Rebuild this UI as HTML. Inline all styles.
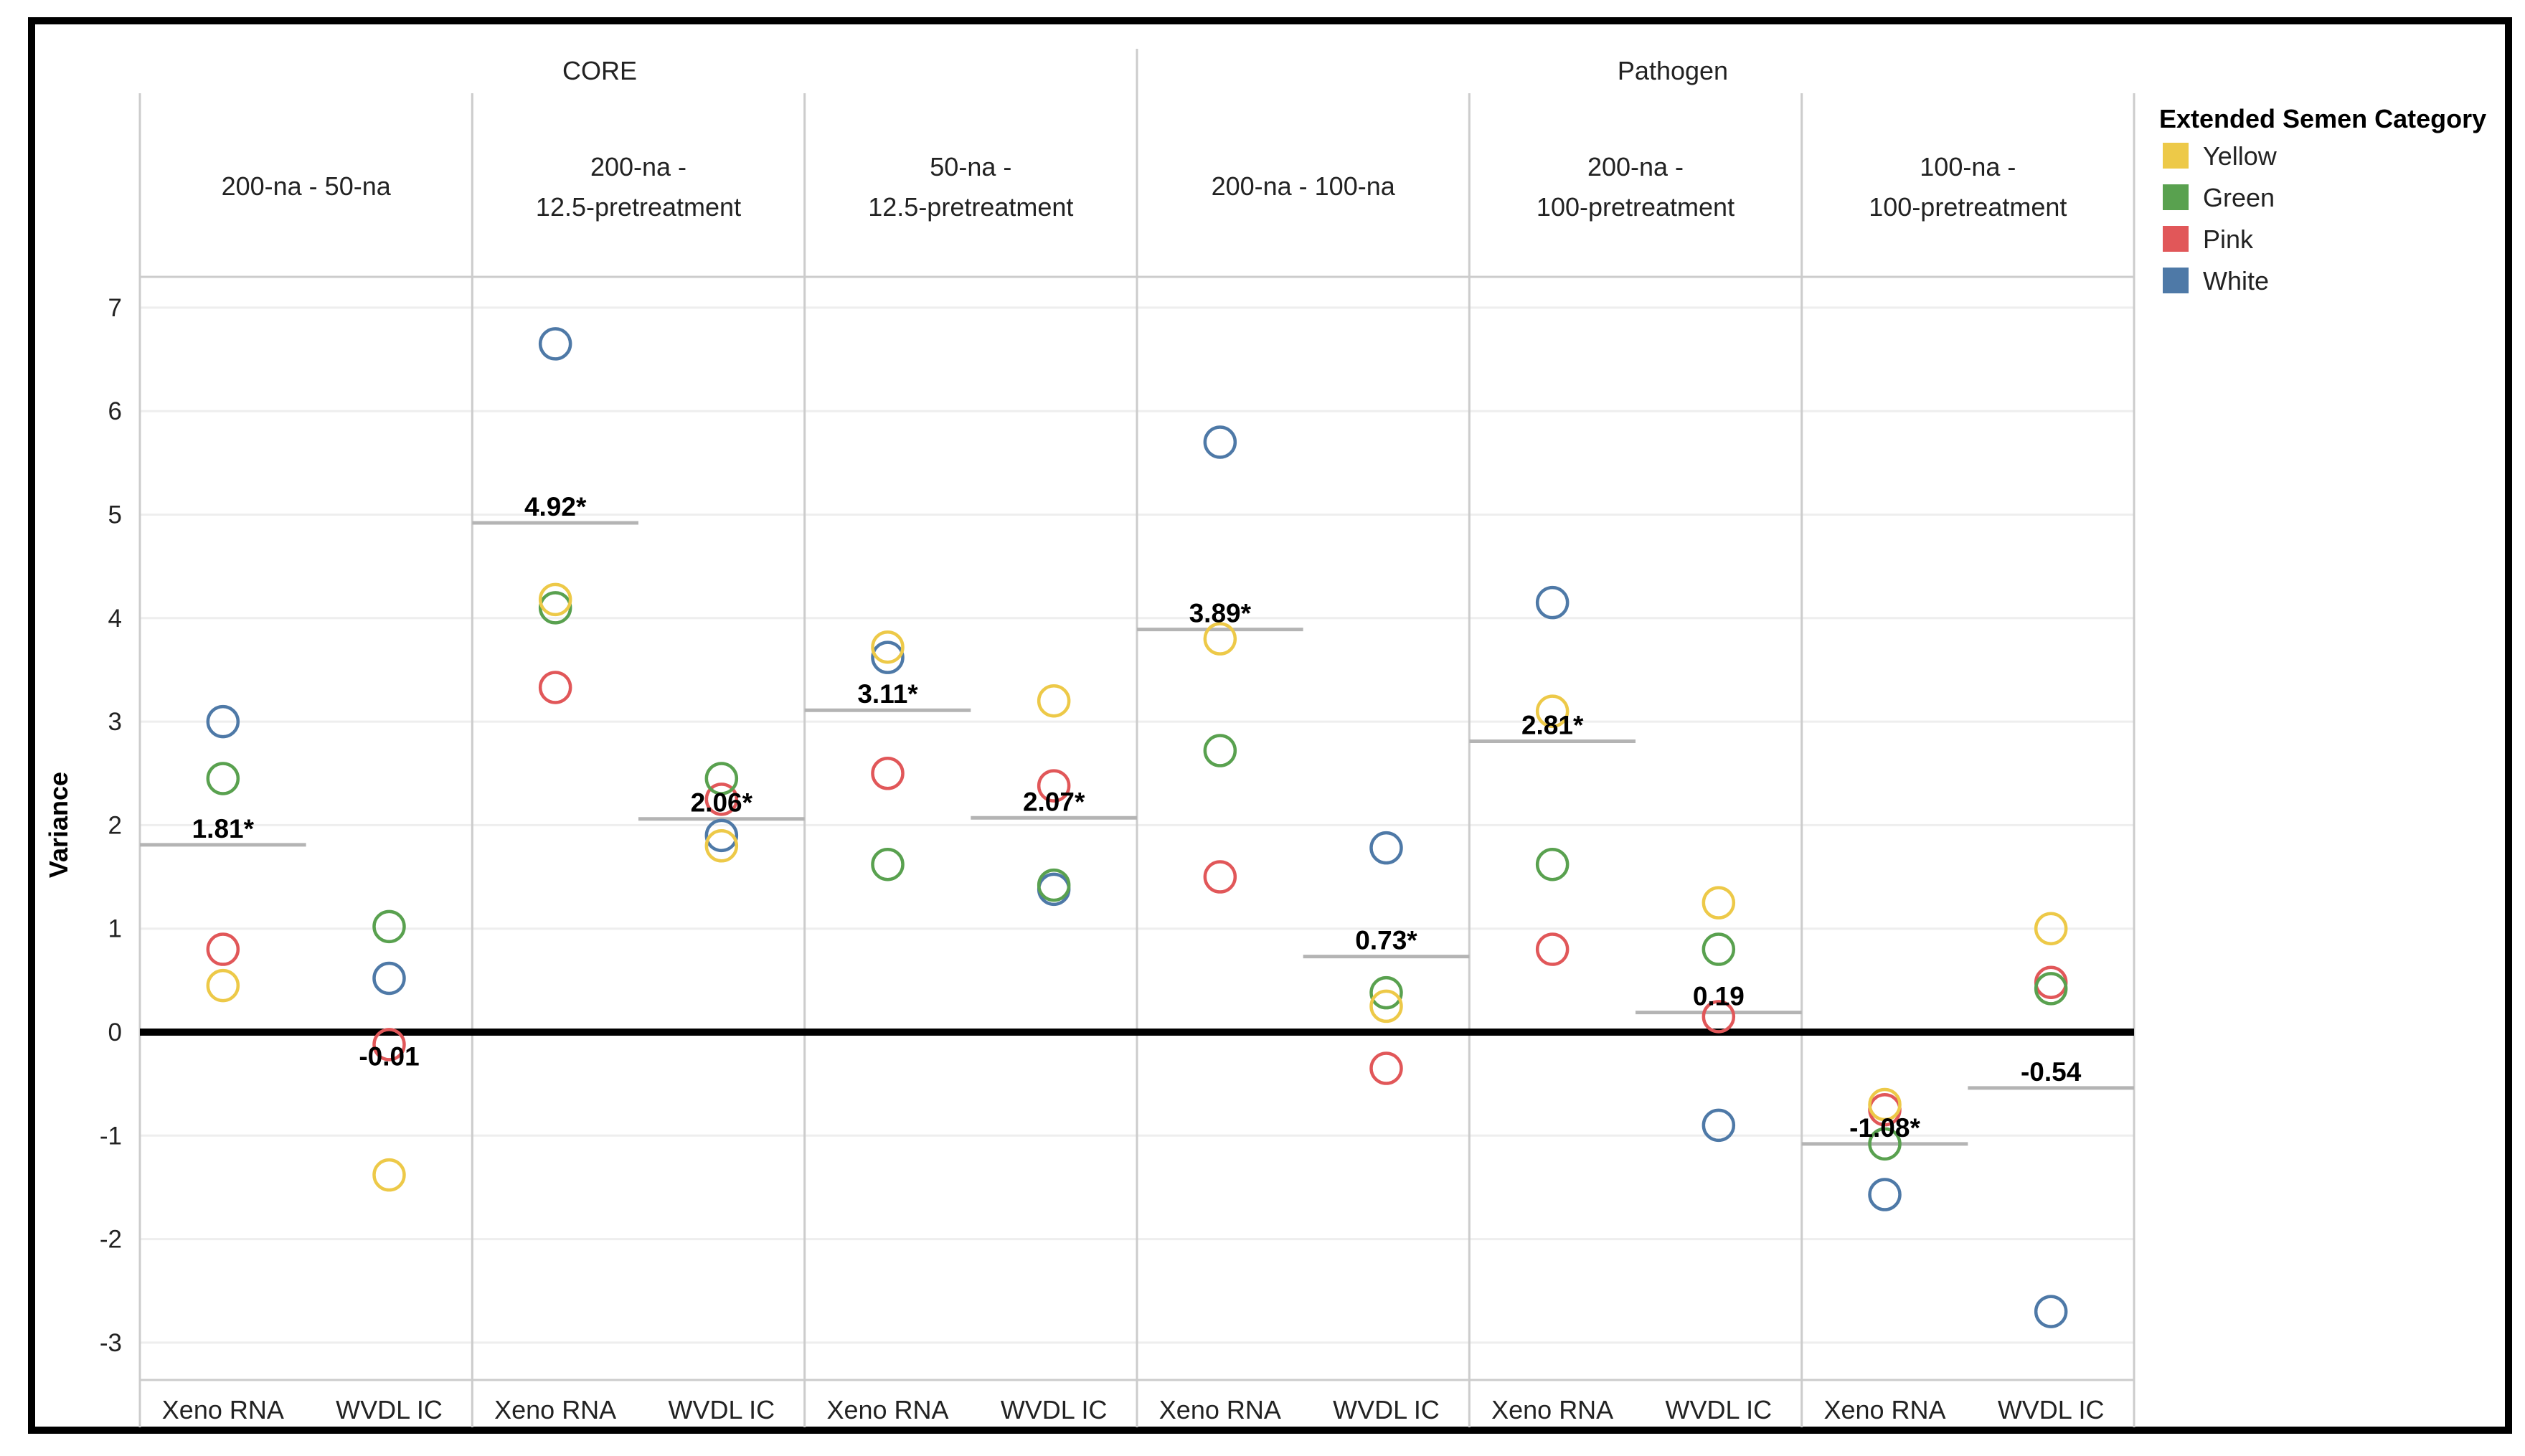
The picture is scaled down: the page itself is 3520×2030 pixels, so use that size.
<!DOCTYPE html>
<html><head><meta charset="utf-8"><style>
html,body{margin:0;padding:0;background:#fff;}
svg{display:block;font-family:"Liberation Sans",sans-serif;}
</style></head><body>
<svg id="chart" width="3520" height="2030" viewBox="0 0 3520 2030" xmlns="http://www.w3.org/2000/svg">
<rect x="0" y="0" width="3520" height="2030" fill="#fff"/>
<rect x="44" y="29" width="3453" height="1965" fill="none" stroke="#000" stroke-width="10"/>
<g id="grid"></g>
<g id="headers"></g>
<g id="marks"></g>
<text x="94" y="1150" font-size="36" font-weight="bold" text-anchor="middle" transform="rotate(-90 94 1150)">Variance</text>
<g id="legend">
<text x="3010" y="178" font-size="36" font-weight="bold">Extended Semen Category</text>
</g>
</svg>
<script>
const groups = ["CORE", "Pathogen"];
const groupSpans = [3, 3];
const comparisons = [["200-na - 50-na"], ["200-na -", "12.5-pretreatment"], ["50-na -", "12.5-pretreatment"], ["200-na - 100-na"], ["200-na -", "100-pretreatment"], ["100-na -", "100-pretreatment"]];
const methods = ["Xeno RNA", "WVDL IC"];
const categories = ["Yellow", "Green", "Pink", "White"];
const colors = ["#EDC948", "#59A14F", "#E15759", "#4E79A7"];
const yTicks = [7, 6, 5, 4, 3, 2, 1, 0, -1, -2, -3];
// values per panel (comparison x method), order Yellow, Green, Pink, White
const yellowVals = [0.45, -1.38, 4.18, 1.8, 3.72, 3.2, 3.8, 0.25, 3.1, 1.25, -0.7, 1.0];
const greenVals = [2.45, 1.02, 4.1, 2.45, 1.62, 1.42, 2.72, 0.38, 1.62, 0.8, -1.08, 0.42];
const pinkVals = [0.8, -0.12, 3.33, 2.25, 2.5, 2.38, 1.5, -0.35, 0.8, 0.15, -0.75, 0.48];
const whiteVals = [3.0, 0.52, 6.65, 1.9, 3.62, 1.38, 5.7, 1.78, 4.15, -0.9, -1.57, -2.7];
const meanVals = [1.81, -0.01, 4.92, 2.06, 3.11, 2.07, 3.89, 0.73, 2.81, 0.19, -1.08, -0.54];
const meanLabels = ["1.81*", "-0.01", "4.92*", "2.06*", "3.11*", "2.07*", "3.89*", "0.73*", "2.81*", "0.19", "-1.08*", "-0.54"];

const NS = "http://www.w3.org/2000/svg";
const plotL = 195, plotR = 2975, plotT = 386, plotB = 1924;
const colW = (plotR - plotL) / comparisons.length;
const y0 = 1439, unit = 144.3;
const groupOffsets = [-54, 52];
function yScale(v) { return y0 - v * unit; }
function panelX(i) { return plotL + colW * (Math.floor(i / 2) + (i % 2 === 0 ? 0.25 : 0.75)); }
function mk(tag, attrs, parent, text) {
  const el = document.createElementNS(NS, tag);
  for (const k in attrs) el.setAttribute(k, attrs[k]);
  if (text !== undefined) el.textContent = text;
  parent.appendChild(el);
  return el;
}
const grid = document.getElementById('grid');
const headers = document.getElementById('headers');
const marks = document.getElementById('marks');
const legend = document.getElementById('legend');

yTicks.forEach(t => {
  const y = yScale(t);
  const g = mk('line', {x1: plotL, x2: plotR, y1: y, y2: y, stroke: '#eeeeee', 'stroke-width': 3}, grid);
  
  
  const tl = mk('text', {x: 170, y: y + 12, 'font-size': 35, 'text-anchor': 'end', fill: '#222'}, grid, String(t));
  
  
});
const hl = mk('line', {x1: plotL, x2: plotR, y1: plotT, y2: plotT, stroke: '#cccccc', 'stroke-width': 3}, grid);


const bl = mk('line', {x1: plotL, x2: plotR, y1: plotB, y2: plotB, stroke: '#cccccc', 'stroke-width': 3}, grid);


for (let c = 0; c <= comparisons.length; c++) {
  const x = plotL + c * colW;
  const top = (c === 3) ? 68 : 130;
  const vl = mk('line', {x1: x, x2: x, y1: top, y2: 1990, stroke: '#cccccc', 'stroke-width': 3}, grid);
  
  
}
let gc = 0;
groups.forEach((g, i) => {
  const cx = plotL + colW * (gc + groupSpans[i] / 2) + groupOffsets[i];
  gc += groupSpans[i];
  const t = mk('text', {x: cx, y: 111, 'font-size': 36, 'text-anchor': 'middle', fill: '#222'}, headers, g);
  
  
});
comparisons.forEach((lines, c) => {
  const cx = plotL + colW * (c + 0.5);
  lines.forEach((ln, k) => {
    const y = lines.length === 1 ? 272 : 245 + k * 56;
    const t = mk('text', {x: cx, y: y, 'font-size': 36, 'text-anchor': 'middle', fill: '#222'}, headers, ln);
    
    
  });
  methods.forEach((m, k) => {
    const t = mk('text', {x: panelX(c * 2 + k), y: 1978, 'font-size': 36, 'text-anchor': 'middle', fill: '#222'}, headers, m);
    
    
  });
});
meanVals.forEach((v, i) => {
  const c = Math.floor(i / 2), k = i % 2;
  const xa = plotL + c * colW + k * colW / 2;
  const ml = mk('line', {x1: xa, x2: xa + colW / 2, y1: yScale(v), y2: yScale(v), stroke: '#b4b4b4', 'stroke-width': 5}, marks);
  
  
});
const zl = mk('line', {x1: plotL, x2: plotR, y1: yScale(0), y2: yScale(0), stroke: '#000', 'stroke-width': 10}, marks);


const series = [yellowVals, greenVals, pinkVals, whiteVals];
[3, 2, 1, 0].forEach(s => {
  series[s].forEach((v, i) => {
    const p = mk('circle', {cx: panelX(i), cy: yScale(v), r: 21, fill: 'none', stroke: colors[s], 'stroke-width': 4.5}, marks);
    
    
  });
});
meanVals.forEach((v, i) => {
  const below = Math.abs(v) < 0.1;
  const y = below ? yScale(v) + 45 : yScale(v) - 10;
  const t = mk('text', {x: panelX(i), y: y, 'font-size': 37, 'font-weight': 'bold', 'text-anchor': 'middle', fill: '#000'}, marks, meanLabels[i]);
  
  
});
categories.forEach((c, k) => {
  const y = 199 + k * 58;
  const r = mk('rect', {x: 3015, y: y, width: 36, height: 36, fill: colors[k]}, legend);
  
  
  const t = mk('text', {x: 3071, y: y + 31, 'font-size': 36, fill: '#222'}, legend, c);
  
  
});
</script>
</body></html>
